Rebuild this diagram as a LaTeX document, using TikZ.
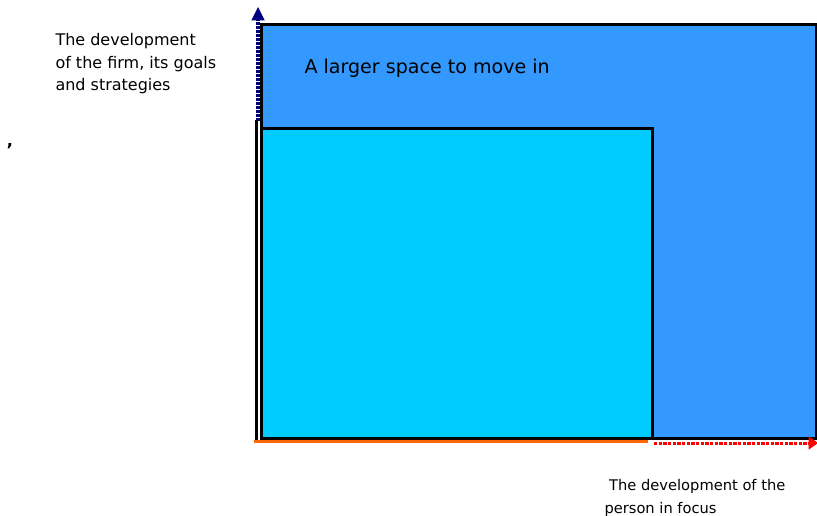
\documentclass[tikz,border=0pt]{standalone}
\usepackage{fontspec}
\setmainfont{DejaVu Sans}
\usetikzlibrary{arrows.meta}

\definecolor{spaceblue}{HTML}{3399FF}
\definecolor{focuscyan}{HTML}{00CCFF}
\definecolor{axisnavy}{HTML}{000080}
\definecolor{axisorange}{HTML}{FF6600}

\begin{document}
\begin{tikzpicture}[x=0.75pt, y=-0.75pt, line width=2.25pt,
    label/.style={inner sep=0pt, anchor=north west, align=left}]
        \useasboundingbox (0,0) rectangle (817,516);
        % Spaces
        \draw[fill=spaceblue] (261,25) rectangle (816,438);
        \draw[fill=focuscyan] (261,129) rectangle (652,438);
        % Axes
        \coordinate (Origin) at (256,442);
        \coordinate (VTop) at (258,7);
        \coordinate (VBase) at (258,121);
        \coordinate (HEnd) at (818,443);
        \coordinate (HStart) at (654,443);
        \draw[axisnavy, line width=3pt, dash pattern=on 2pt off 1pt, -{Triangle[width=10pt, length=10pt, line width=0pt]}] (VBase) -- (VTop);
        \draw[black] (256,120) -- (Origin);
        \draw[axisorange] (254,441.5) -- (648,441.5);
        \draw[red, dash pattern=on 2.5pt off 1pt, -{Triangle[width=10pt, length=7pt, line width=0pt]}] (HStart) -- (HEnd);
        % Labels
        \node[font=\fontsize{14.3}{16}\selectfont, anchor=west, inner sep=0pt] (space) at (303,68) {A larger space to move in};
        \node[label, font=\fontsize{12}{16.8}\selectfont] (firm) at (54,32) {The development\\of the firm, its goals\\and strategies};
        \node[label, font=\fontsize{11}{17.2}\selectfont] (person) at (603,478) {\ The development of the\\person in focus};
        \node[font=\bfseries\large, anchor=center] (comma) at (10,146) {,};
    \end{tikzpicture}
\end{document}
